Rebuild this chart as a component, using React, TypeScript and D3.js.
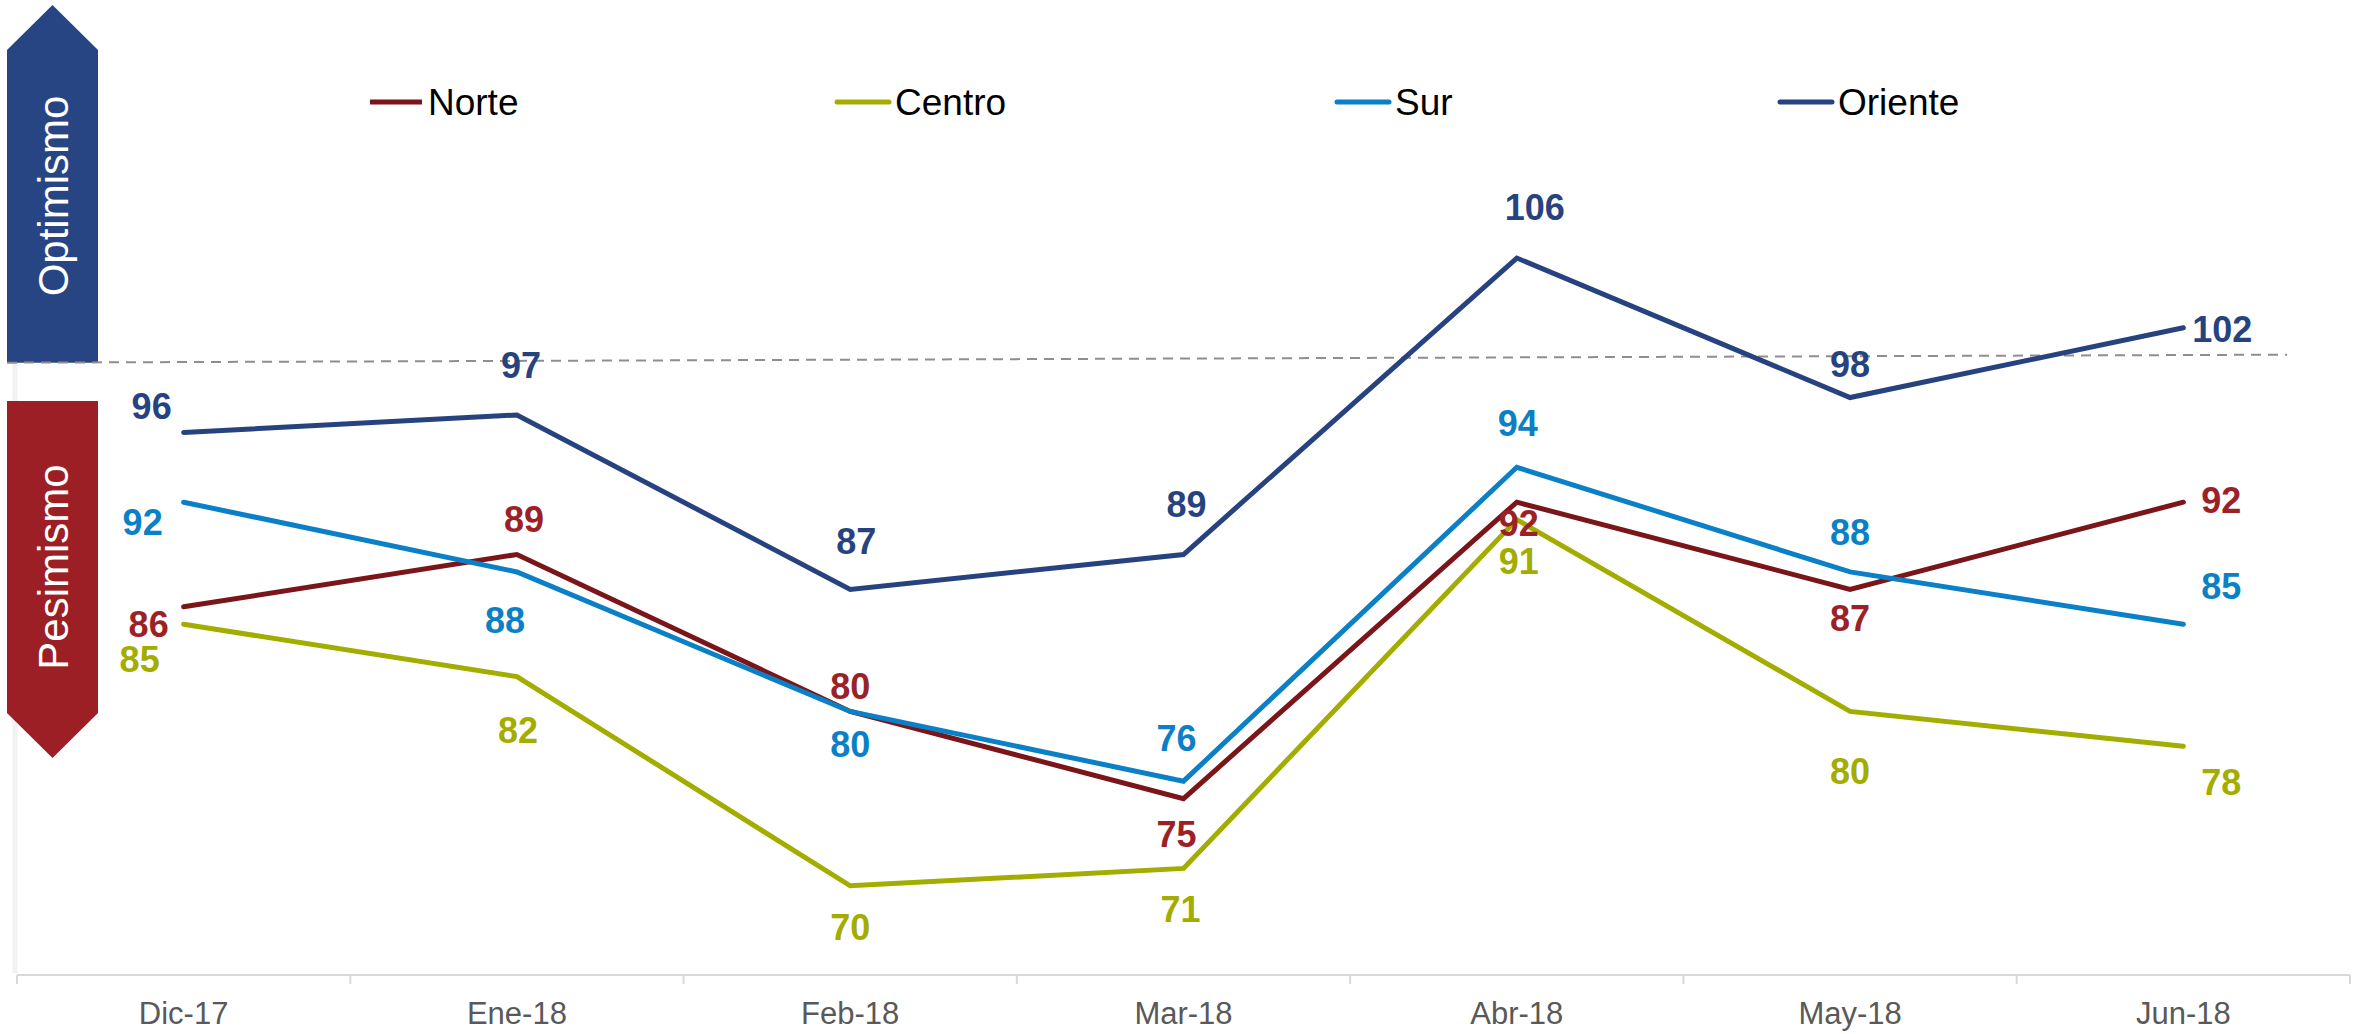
import React, { useEffect, useRef } from "react";
import * as d3 from "d3";

const months = ["Dic-17", "Ene-18", "Feb-18", "Mar-18", "Abr-18", "May-18", "Jun-18"];
const seriesNames = ["Norte", "Centro", "Sur", "Oriente"];

const norte = [86, 89, 80, 75, 92, 87, 92];
const centro = [85, 82, 70, 71, 91, 80, 78];
const sur = [92, 88, 80, 76, 94, 88, 85];
const oriente = [96, 97, 87, 89, 106, 98, 102];

// label nudges (dx, dy of label centre from the point), set by hand like in the source
const norteLabelPos = [[-35, 17], [7, -35], [0, -25], [-7, 35], [2, 21], [0, 29], [38, -2]];
const centroLabelPos = [[-44, 35], [1, 53], [0, 41], [-3, 41], [2, 41], [0, 60], [38, 36]];
const surLabelPos = [[-41, 20], [-12, 48], [0, 33], [-7, -43], [1, -44], [0, -40], [38, -38]];
const orienteLabelPos = [[-32, -26], [4, -50], [6, -48], [3, -50], [18, -51], [0, -34], [39, 1]];

const W = 2356;
const H = 1034;
const FONT = "'Liberation Sans', Arial, sans-serif";

export default function App() {
  const ref = useRef<SVGSVGElement>(null);

  useEffect(() => {
    const svg = d3.select(ref.current);
    svg.selectAll("*").remove();

    const series = [
      { name: "Norte", values: norte, line: "#7a1519", label: "#9b2127", pos: norteLabelPos },
      { name: "Centro", values: centro, line: "#a3ad00", label: "#a3ad00", pos: centroLabelPos },
      { name: "Sur", values: sur, line: "#0b80c6", label: "#0b80c6", pos: surLabelPos },
      { name: "Oriente", values: oriente, line: "#27437f", label: "#27437f", pos: orienteLabelPos },
    ];

    const x = d3.scaleBand().domain(months).range([17, 2350]);
    const y = d3.scaleLinear().domain([65, 110]).range([973, 188.3]);
    const cx = (m: string) => (x(m) as number) + x.bandwidth() / 2;

    // faint plot-area border on the left
    svg.append("line")
      .attr("x1", 15).attr("x2", 15)
      .attr("y1", y(100)).attr("y2", y(65))
      .attr("stroke", "#f2f2f2").attr("stroke-width", 5);

    // x axis
    const axis = svg.append("g").attr("transform", "translate(0," + (y(65) + 2) + ")");
    axis.append("line")
      .attr("x1", 17).attr("x2", 2350)
      .attr("stroke", "#d9d9d9").attr("stroke-width", 2);
    axis.selectAll(".tick")
      .data(months.concat(["end"]))
      .enter()
      .append("line")
      .attr("x1", (d) => (d === "end" ? 2350 : (x(d) as number)))
      .attr("x2", (d) => (d === "end" ? 2350 : (x(d) as number)))
      .attr("y1", 0).attr("y2", 9)
      .attr("stroke", "#d9d9d9").attr("stroke-width", 2);
    axis.selectAll(".lbl")
      .data(months)
      .enter()
      .append("text")
      .attr("x", (d) => cx(d))
      .attr("y", 49)
      .attr("text-anchor", "middle")
      .attr("font-family", FONT)
      .attr("font-size", 31)
      .attr("fill", "#595959")
      .text((d) => d);

    // Optimismo / Pesimismo arrows
    const arrowL = 7, arrowR = 98, arrowMid = (7 + 98) / 2;
    svg.append("path")
      .attr("d", `M${arrowL},${y(100)} L${arrowL},50 L${arrowMid},5 L${arrowR},50 L${arrowR},${y(100)} Z`)
      .attr("fill", "#284583");
    svg.append("path")
      .attr("d", `M${arrowL},401 L${arrowR},401 L${arrowR},713 L${arrowMid},758 L${arrowL},713 Z`)
      .attr("fill", "#9b1f24");
    svg.append("text")
      .attr("transform", `translate(${arrowMid + 15},196) rotate(-90)`)
      .attr("text-anchor", "middle")
      .attr("font-family", FONT)
      .attr("font-size", 42)
      .attr("fill", "#ffffff")
      .text("Optimismo");
    svg.append("text")
      .attr("transform", `translate(${arrowMid + 15},567) rotate(-90)`)
      .attr("text-anchor", "middle")
      .attr("font-family", FONT)
      .attr("font-size", 42)
      .attr("fill", "#ffffff")
      .text("Pesimismo");

    // dashed reference line at 100
    svg.append("line")
      .attr("x1", arrowL).attr("x2", 2287)
      .attr("y1", y(100)).attr("y2", y(100) - 8)
      .attr("stroke", "#958b8b")
      .attr("stroke-width", 2)
      .attr("stroke-dasharray", "10,7");

    // lines
    const line = d3.line<number>()
      .x((d, i) => cx(months[i]))
      .y((d) => y(d));
    series.forEach((s) => {
      svg.append("path")
        .datum(s.values)
        .attr("d", line)
        .attr("fill", "none")
        .attr("stroke", s.line)
        .attr("stroke-width", 5)
        .attr("stroke-linejoin", "miter")
        .attr("stroke-linecap", "round");
    });

    // data labels
    series.forEach((s) => {
      svg.selectAll(".lab-" + s.name)
        .data(s.values)
        .enter()
        .append("text")
        .attr("x", (d, i) => cx(months[i]) + s.pos[i][0])
        .attr("y", (d, i) => y(d) + s.pos[i][1] + 13)
        .attr("text-anchor", "middle")
        .attr("font-family", FONT)
        .attr("font-weight", "bold")
        .attr("font-size", 36)
        .attr("fill", s.label)
        .text((d) => d);
    });

    // legend
    const legendX = [370, 837, 1337, 1780];
    series.forEach((s, i) => {
      const g = svg.append("g").attr("transform", `translate(${legendX[i]},102)`);
      g.append("line")
        .attr("x1", 0).attr("x2", 52)
        .attr("stroke", s.line)
        .attr("stroke-width", 5)
        .attr("stroke-linecap", i === 0 ? "butt" : "round");
      g.append("text")
        .attr("x", 58)
        .attr("y", 13)
        .attr("font-family", FONT)
        .attr("font-size", 37)
        .attr("fill", "#000000")
        .text(seriesNames[i]);
    });
  }, []);

  return (
    <svg
      ref={ref}
      width={W}
      height={H}
      style={{ position: "absolute", left: 0, top: 0, background: "#ffffff" }}
    />
  );
}
